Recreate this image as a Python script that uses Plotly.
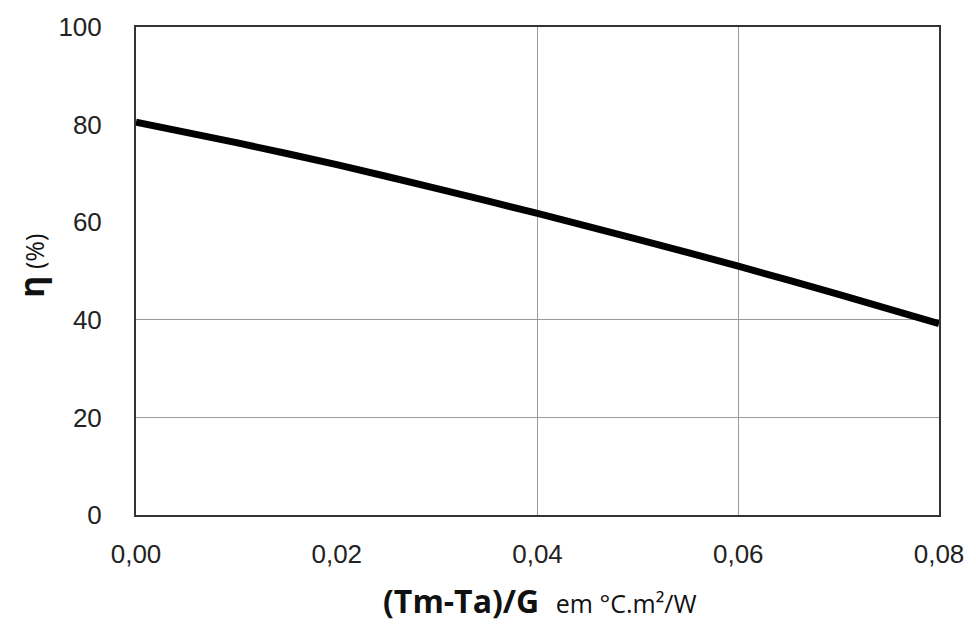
import plotly.graph_objects as go

x_vals = [0.00, 0.01, 0.02, 0.03, 0.04, 0.05, 0.06, 0.07, 0.08]
eta_vals = [80.5, 76.3, 71.8, 66.9, 61.8, 56.5, 51.0, 45.2, 39.2]
x_ticks = [0.00, 0.02, 0.04, 0.06, 0.08]
y_ticks = [0, 20, 40, 60, 80, 100]
x_grid = [0.04, 0.06]
y_grid = [20, 40]

fig = go.Figure()
fig.add_trace(go.Scatter(x=x_vals, y=eta_vals, mode="lines",
                         line=dict(color="#000000", width=7, shape="spline", smoothing=0.6),
                         showlegend=False, hoverinfo="skip"))
# invisible trace on overlay axes carrying the partial grid
fig.add_trace(go.Scatter(x=[0, 0.08], y=[0, 100], mode="markers", marker=dict(opacity=0),
                         xaxis="x2", yaxis="y2", showlegend=False, hoverinfo="skip"))

FONT = "Liberation Sans, Arial, sans-serif"
tickfont = dict(family=FONT, size=26, color="#222222")
fig.update_layout(
    width=976, height=624,
    margin=dict(l=136, r=32, t=23, b=109),
    plot_bgcolor="white", paper_bgcolor="white",
    separators=",.",
    xaxis=dict(range=[0, 0.08], tickvals=x_ticks, tickformat=".2f", showgrid=False, zeroline=False,
               showline=True, linecolor="#333333", linewidth=2, mirror=True, ticks="",
               tickfont=tickfont, ticklabelstandoff=15),
    yaxis=dict(range=[0, 100], tickvals=y_ticks, showgrid=False, zeroline=False,
               showline=True, linecolor="#333333", linewidth=2, mirror=True, ticks="",
               tickfont=tickfont, ticklabelstandoff=27),
    xaxis2=dict(range=[0, 0.08], overlaying="x", tickvals=x_grid, showgrid=True, gridcolor="#9a9a9a",
                gridwidth=1, showticklabels=False, zeroline=False, showline=False, layer="below traces"),
    yaxis2=dict(range=[0, 100], overlaying="y", tickvals=y_grid, showgrid=True, gridcolor="#9a9a9a",
                gridwidth=1, showticklabels=False, zeroline=False, showline=False, layer="below traces"),
)
fig.add_annotation(xref="paper", yref="paper", x=0.503, y=-0.176, yanchor="middle", xanchor="center",
                   showarrow=False,
                   text="<b>(Tm-Ta)/G</b>  <span style='font-size:25px'>em °C.m²/W</span>",
                   font=dict(family="Open Sans, Liberation Sans, sans-serif", size=32, color="#111111"))
fig.add_annotation(xref="paper", yref="paper", x=-0.131, y=0.51, xanchor="center", yanchor="middle",
                   showarrow=False, textangle=-90,
                   text="<b><span style='font-size:34px'>η</span></b> (%)",
                   font=dict(family="Open Sans, Liberation Sans, sans-serif", size=25, color="#111111"))

fig.write_html("out.html", config={"displayModeBar": False},
               post_script="document.body.style.margin='0';document.body.style.overflow='hidden';")
